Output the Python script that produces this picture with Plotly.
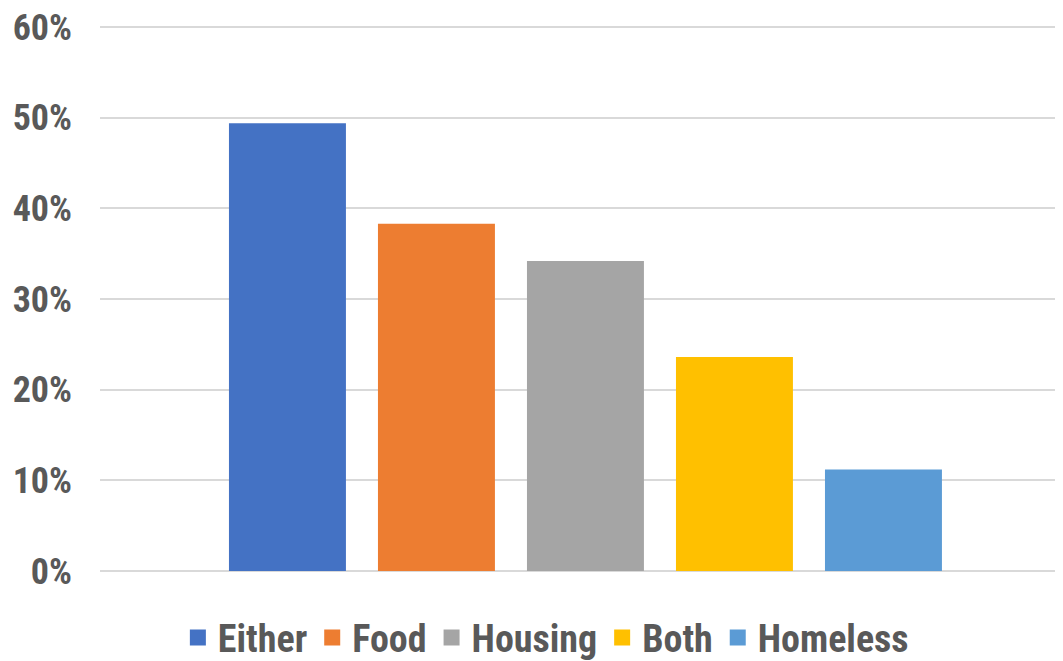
import plotly.graph_objects as go

categories = ["Either", "Food", "Housing", "Both", "Homeless"]
values = [49.4, 38.3, 34.2, 23.6, 11.2]
colors = ["#4472C4", "#ED7D31", "#A5A5A5", "#FFC000", "#5B9BD5"]
tick_vals = [0, 10, 20, 30, 40, 50, 60]
tick_text = ["0%", "10%", "20%", "30%", "40%", "50%", "60%"]

font_family = "Roboto Condensed, DejaVu Sans Condensed, sans-serif"

fig = go.Figure()
for cat, val, col in zip(categories, values, colors):
    fig.add_trace(go.Bar(x=[cat], y=[val], name=cat, marker_color=col,
                         marker_line_width=0, showlegend=False, legendgroup=cat))
for cat, col in zip(categories, colors):
    fig.add_trace(go.Scatter(x=[None], y=[None], mode="markers", name=cat,
                             legendgroup=cat, showlegend=True,
                             marker=dict(symbol="square", size=16, color=col)))

fig.update_layout(
    width=1055, height=653,
    margin=dict(l=92, r=0, t=10, b=90, autoexpand=False),
    paper_bgcolor="white", plot_bgcolor="white",
    barmode="overlay", bargap=0.215,
    font=dict(family=font_family, color="#595959"),
    showlegend=True,
    legend=dict(orientation="h", x=0.463, xanchor="center", y=-0.121, yanchor="middle",
                font=dict(size=38, family=font_family, color="#595959", weight="bold"),
                itemwidth=30, traceorder="normal"),
    xaxis=dict(type="category", range=[-1.258, 5.205], showticklabels=False,
               showgrid=False, zeroline=False, showline=False, automargin=False),
    yaxis=dict(range=[0, 61], tickvals=tick_vals, ticktext=tick_text,
               showgrid=True, gridcolor="#d9d9d9", gridwidth=1.5,
               zeroline=True, zerolinecolor="#d9d9d9", zerolinewidth=1.5,
               tickfont=dict(size=36, family=font_family, color="#595959", weight="bold"),
               ticklabelstandoff=27, ticklabeloverflow="allow", automargin=False),
)

fig.write_html("out.html")
